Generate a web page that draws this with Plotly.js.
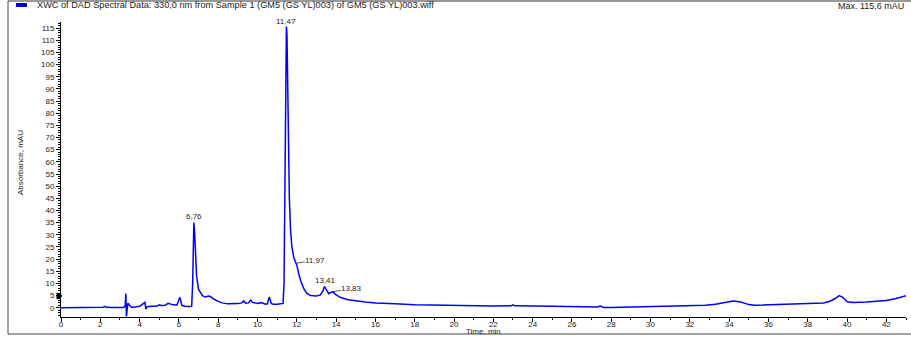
<!DOCTYPE html>
<html>
<head>
<meta charset="utf-8">
<script src="https://cdn.plot.ly/plotly-3.0.1.min.js"></script>
<style>
html,body{margin:0;padding:0;background:#fff;}
#chart{width:911px;height:337px;}
</style>
</head>
<body>
<div id="chart"></div>
<script>
// ---- data ----
const timeMin = [0,0.5,1.0,1.5,2.0,2.15,2.22,2.3,2.6,3.0,3.2,3.27,3.3,3.33,3.36,3.4,3.45,3.5,3.6,3.8,4.0,4.1,4.2,4.27,4.32,4.36,4.45,4.6,4.9,5.0,5.1,5.3,5.45,5.55,5.7,5.9,5.98,6.05,6.15,6.3,6.5,6.65,6.7,6.74,6.76,6.8,6.85,6.9,7.0,7.1,7.2,7.35,7.5,7.6,7.7,7.8,8.0,8.2,8.5,8.8,9.0,9.2,9.3,9.4,9.55,9.65,9.75,9.9,10.0,10.2,10.4,10.5,10.6,10.7,10.8,11.0,11.2,11.3,11.35,11.4,11.44,11.47,11.5,11.53,11.57,11.62,11.68,11.75,11.85,11.93,11.97,12.0,12.1,12.2,12.35,12.5,12.7,13.0,13.2,13.32,13.41,13.5,13.62,13.72,13.83,13.95,14.2,14.6,15.0,15.5,16.0,16.6,16.7,17.0,18.0,19.0,20.0,21.0,22.0,22.9,23.0,23.1,23.5,23.6,24.0,25.0,26.0,27.0,27.3,27.45,27.6,28.0,29.0,30.0,31.0,32.0,32.8,33.3,33.8,34.2,34.6,35.0,35.3,36.0,37.0,38.0,38.8,39.1,39.4,39.6,39.8,40.0,40.3,41.0,41.5,42.0,42.5,43.0];
const absorbance = [0,0,0,0,0.1,0.2,0.6,0.2,0.1,0.1,0.1,1.0,5.8,-3.6,1.0,1.8,1.5,0.8,0.1,0.2,0.6,1.2,1.8,2.2,-0.6,0.3,0.5,0.5,0.7,1.2,0.9,1.0,1.8,1.6,1.2,1.1,3.0,4.3,1.0,0.6,0.5,0.6,10,30,35,31,21,13,7.5,6.0,5.0,4.4,4.8,4.6,4.0,3.5,2.6,2.0,1.6,1.6,1.7,2.0,2.8,1.9,2.0,3.2,2.2,2.0,1.8,2.1,1.5,1.6,4.4,1.8,1.4,1.4,1.5,1.8,10,60,100,115.6,112,95,70,45,32,25,20.5,18.8,18.3,17.5,14,11,8,6,5,4.8,5.3,6.8,8.7,7.2,5.8,6.2,6.6,5.6,4.3,3.3,2.8,2.4,2.0,1.8,2.0,1.6,1.2,1.0,0.8,0.8,0.7,0.8,1.2,0.8,0.8,1.0,0.7,0.6,0.5,0.4,0.3,0.7,0.1,0.1,0.3,0.5,0.6,0.8,1.0,1.4,2.2,2.8,2.4,1.3,1.0,1.2,1.4,1.6,2.0,2.6,3.8,5.0,4.2,2.5,2.2,2.4,2.6,3.0,3.8,5.0,6.8];
const xTicks = [0,2,4,6,8,10,12,14,16,18,20,22,24,26,28,30,32,34,36,38,40,42];
const yTicks = [0,5,10,15,20,25,30,35,40,45,50,55,60,65,70,75,80,85,90,95,100,105,110,115];
const peakTimes = [6.76, 11.47, 11.97, 13.41, 13.83];
const peakLabels = ["6,76", "11,47", "11,97", "13,41", "13,83"];
const legendText = "XWC of DAD Spectral Data: 330,0 nm from Sample 1 (GM5 (GS YL)003) of GM5 (GS YL)003.wiff";
const maxText = "Max. 115,6 mAU";
const xTitle = "Time, min";
const yTitle = "Absorbance, mAU";

// ---- layout geometry ----
const W = 911, H = 337;
const M = {l: 61, r: 5, t: 22, b: 20};
const PW = W - M.l - M.r, PH = H - M.t - M.b;
const px = x => (x - M.l) / PW;          // pixel -> paper x
const py = y => (M.t + PH - y) / PH;      // pixel -> paper y

function valAt(t){
  const i = timeMin.indexOf(t);
  return absorbance[i];
}

const font = 'Arial, "Liberation Sans", sans-serif';
const txt = '#222';

const annotations = [];
// peak labels
const arrowCfg = {
  "6,76":  {showarrow:false, yanchor:'bottom', xanchor:'center', yshift:1},
  "11,47": {showarrow:false, yanchor:'bottom', xanchor:'center', yshift:0},
  "11,97": {showarrow:true, ax:19, ay:-3},
  "13,41": {showarrow:false, yanchor:'bottom', xanchor:'center', yshift:1, xshift:1},
  "13,83": {showarrow:true, ax:19, ay:-3}
};
peakTimes.forEach((t, i) => {
  const lab = peakLabels[i];
  const a = Object.assign({
    x: t, y: valAt(t), xref: 'x', yref: 'y', text: lab,
    font: {family: font, size: 8, color: txt},
    arrowhead: 0, arrowwidth: 0.8, arrowcolor: '#333', standoff: 0, borderpad: 0
  }, arrowCfg[lab]);
  annotations.push(a);
});
annotations.push({xref:'paper', yref:'paper', x:px(35), y:py(5), xanchor:'left', yanchor:'middle',
  text: legendText, showarrow:false, font:{family:font, size:9.2, color:txt}});
annotations.push({xref:'paper', yref:'paper', x:px(906), y:py(6), xanchor:'right', yanchor:'middle',
  text: maxText, showarrow:false, font:{family:font, size:9, color:txt}});
annotations.push({xref:'paper', yref:'paper', x:px(483), y:py(331), xanchor:'center', yanchor:'middle',
  text: xTitle, showarrow:false, font:{family:font, size:8, color:txt}});
annotations.push({xref:'paper', yref:'paper', x:px(20), y:py(163), xanchor:'center', yanchor:'middle',
  text: yTitle, textangle:-90, showarrow:false, font:{family:font, size:8, color:txt}});

const shapes = [
  // frame
  {type:'line', xref:'paper', yref:'paper', x0:px(8), x1:px(911), y0:py(1), y1:py(1), line:{color:'#777', width:1.5}},
  {type:'line', xref:'paper', yref:'paper', x0:px(8), x1:px(8), y0:py(1), y1:py(334), line:{color:'#444', width:1}},
  {type:'line', xref:'paper', yref:'paper', x0:px(8), x1:px(911), y0:py(334), y1:py(334), line:{color:'#444', width:1}},
  // legend swatch
  {type:'rect', xref:'paper', yref:'paper', x0:px(16), x1:px(27), y0:py(3), y1:py(7), fillcolor:'#0000cc', line:{width:0}},
  // y-axis marker
  {type:'path', xref:'paper', yref:'paper',
   path:`M ${px(57)} ${py(293)} L ${px(62)} ${py(296)} L ${px(57)} ${py(299)} Z`,
   fillcolor:'#000', line:{color:'#000', width:1}}
];

const trace = {
  x: timeMin, y: absorbance, type: 'scatter', mode: 'lines',
  line: {color: '#0000ff', width: 1.5}, showlegend: false, hoverinfo: 'skip'
};

const axisCommon = {
  showgrid:false, zeroline:false, showline:true, linecolor:'#000', linewidth:1,
  ticks:'outside', ticklen:4, tickwidth:1, tickcolor:'#000',
  tickfont:{family:font, size:8, color:txt}, automargin:false
};

const layout = {
  width: W, height: H,
  margin: M,
  paper_bgcolor:'#fff', plot_bgcolor:'#fff',
  showlegend:false,
  xaxis: Object.assign({}, axisCommon, {
    range:[0, 43], tickmode:'array', tickvals:xTicks, ticktext:xTicks.map(String),
    ticklabelstandoff:-5,
    minor:{dtick:1, tick0:0, ticklen:2, ticks:'outside', tickcolor:'#000'}
  }),
  yaxis: Object.assign({}, axisCommon, {
    range:[-3.8, 117.5], tickmode:'array', tickvals:yTicks, ticktext:yTicks.map(String),
    minor:{dtick:1, tick0:0, ticklen:2, ticks:'outside', tickcolor:'#000'}
  }),
  annotations: annotations,
  shapes: shapes
};

Plotly.newPlot('chart', [trace], layout, {staticPlot:true, displayModeBar:false});
</script>
</body>
</html>
